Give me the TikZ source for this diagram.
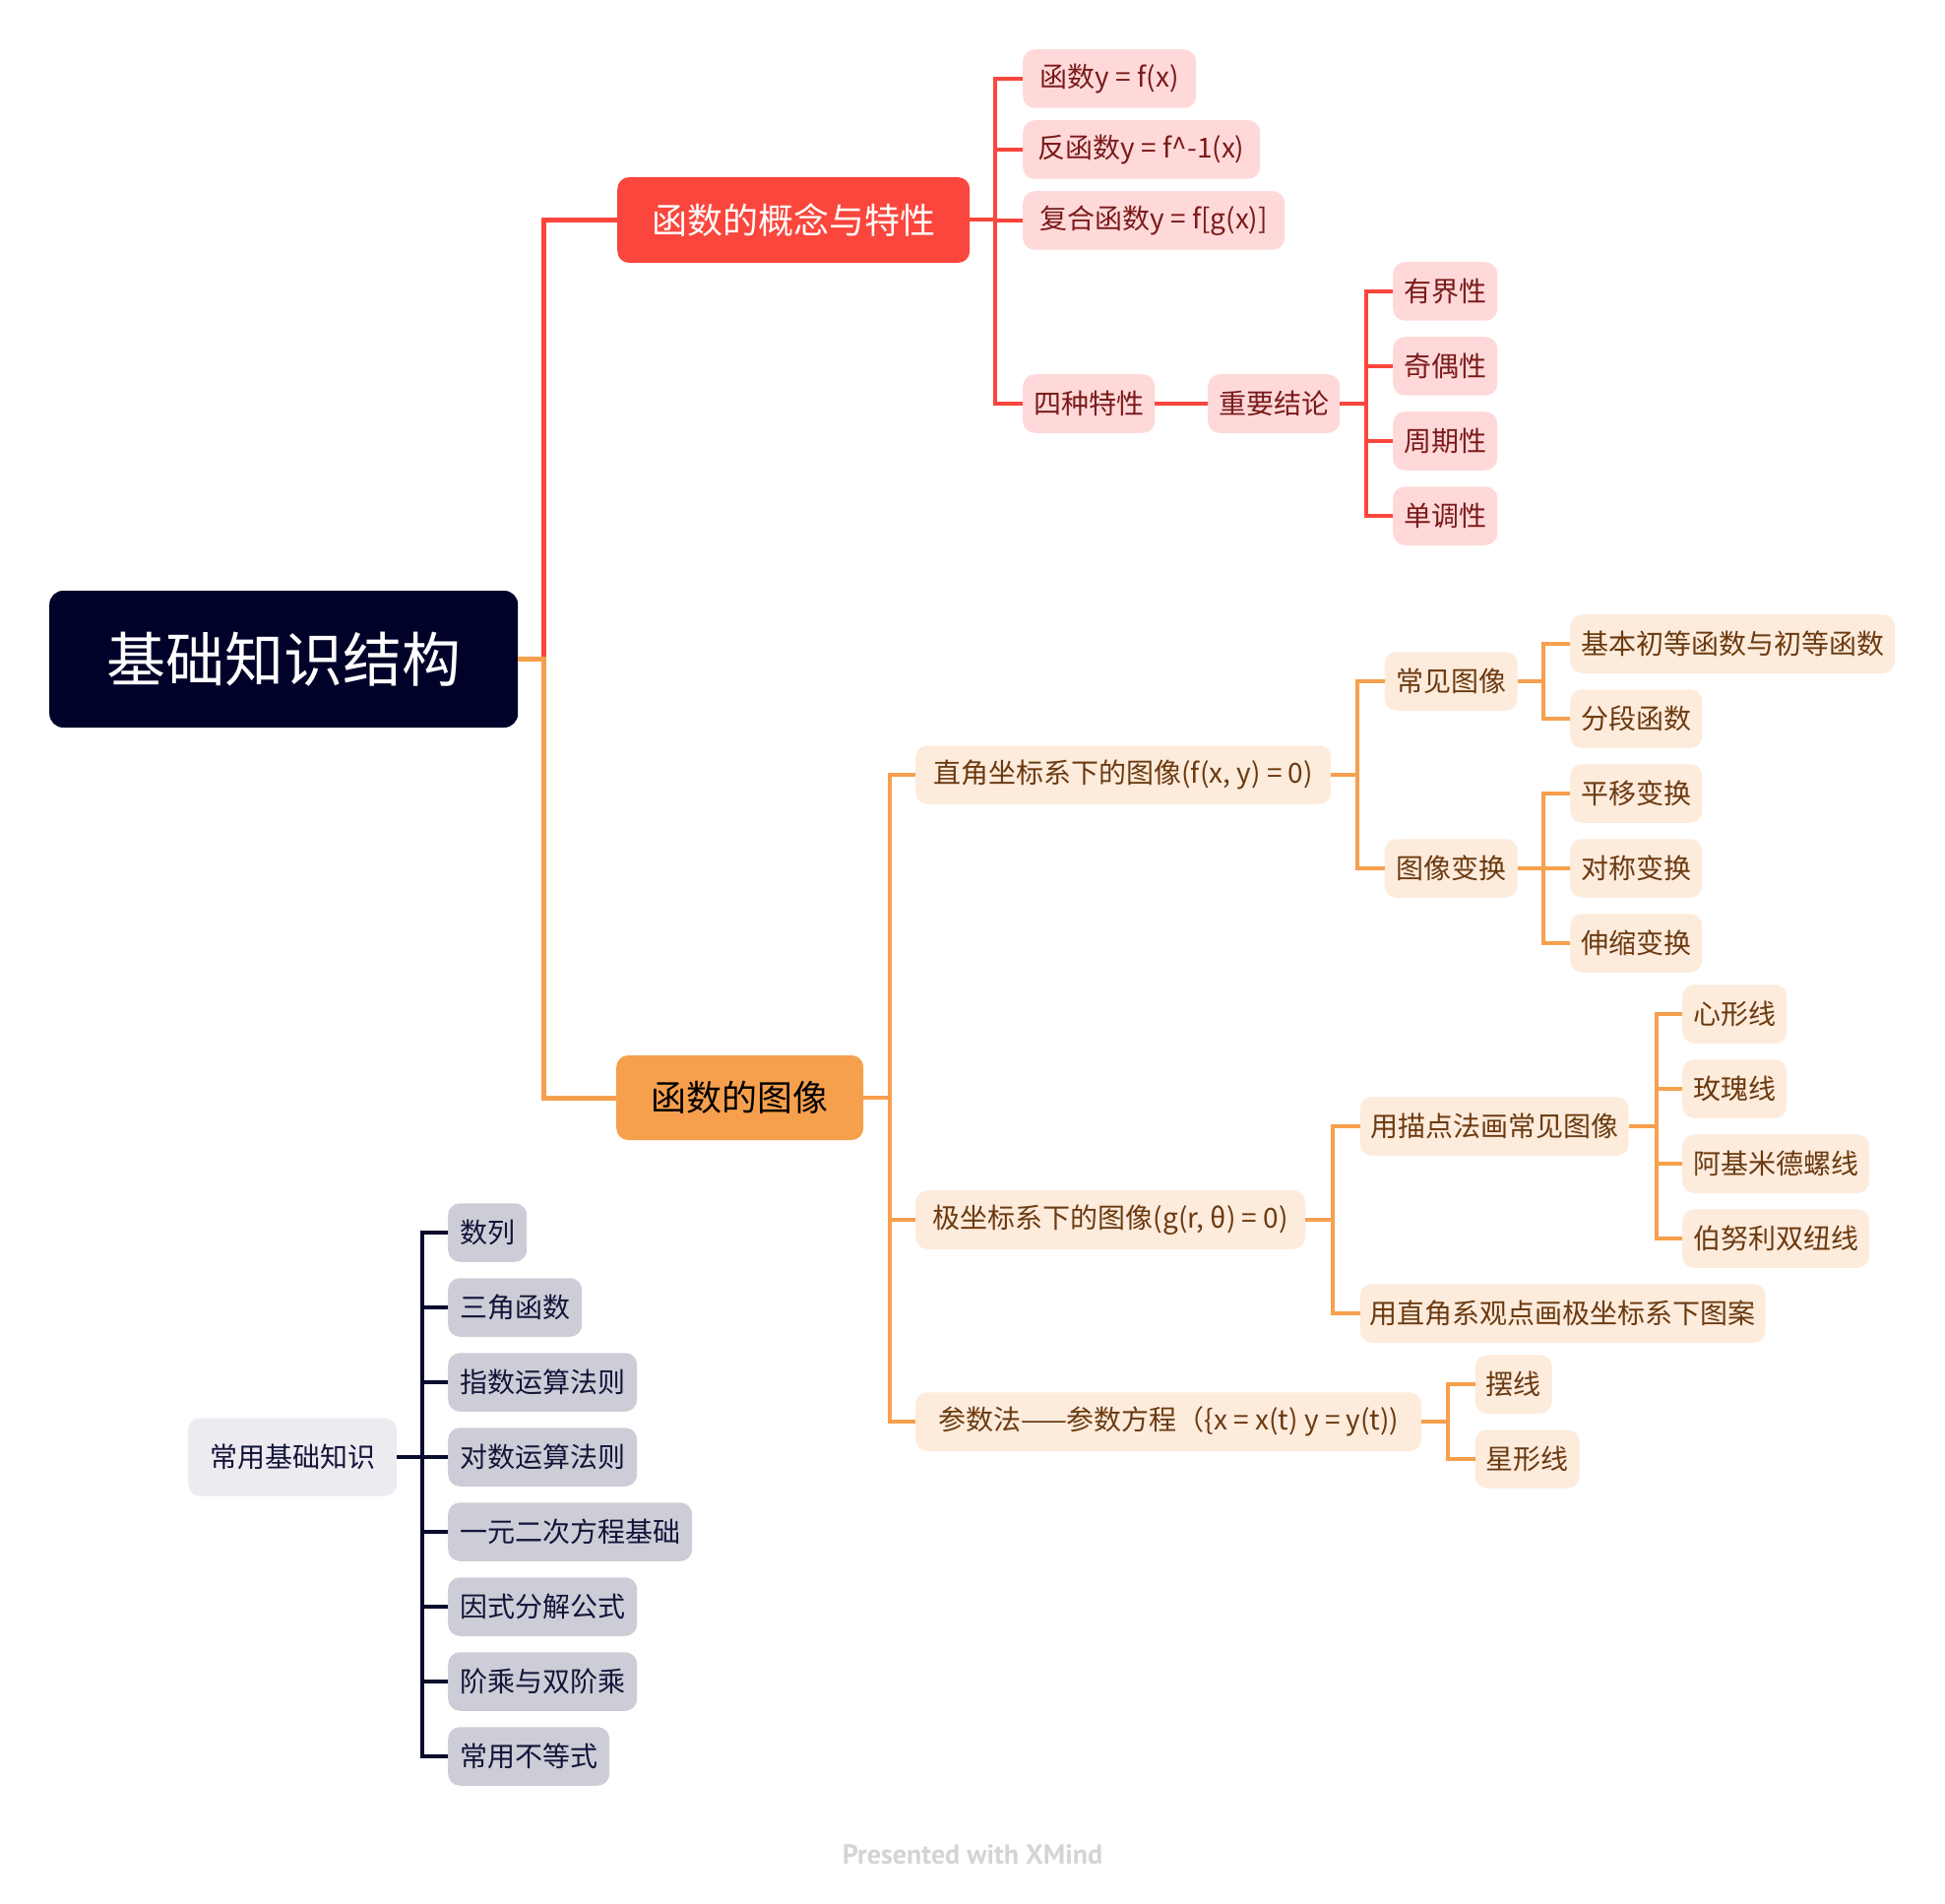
\documentclass[tikz,border=0pt]{standalone}
\usepackage{fontspec}
\setmainfont{Noto Sans CJK SC}
\newfontfamily\wmfont{PT Sans}

% palette
\definecolor{rootF}{HTML}{000229}
\definecolor{redM}{HTML}{FA463C}
\definecolor{pinkF}{HTML}{FFD9D9}
\definecolor{pinkT}{HTML}{7B1A1A}
\definecolor{orM}{HTML}{F6A04D}
\definecolor{peachF}{HTML}{FDEBDC}
\definecolor{peachT}{HTML}{6B3A10}
\definecolor{grayA}{HTML}{EDEBF0}
\definecolor{grayB}{HTML}{CDCDD7}
\definecolor{navyT}{HTML}{14143A}
\definecolor{navyL}{HTML}{0B0B2E}
\definecolor{wmark}{HTML}{D4D4D4}

\newcommand\rootsz{\fontsize{60}{70}\selectfont}
\newcommand\mainsz{\fontsize{36}{42}\selectfont}
\newcommand\subsz{\fontsize{28}{33}\selectfont}

\tikzset{
  box/.style={rounded corners=12pt, inner sep=0pt, minimum height=59.5pt, anchor=west, align=center},
  wd/.style={minimum width=#1 pt},
  rootbox/.style={box, rounded corners=14pt, fill=rootF, text=white, font=\rootsz, minimum height=139pt},
  redbox/.style={box, fill=redM, text=white, font=\mainsz, minimum height=87pt},
  orbox/.style={box, fill=orM, text=black, font=\mainsz, minimum height=86pt},
  pk/.style={box, fill=pinkF, text=pinkT, font=\subsz},
  pe/.style={box, fill=peachF, text=peachT, font=\subsz},
  gA/.style={box, fill=grayA, text=navyT, font=\subsz, minimum height=79pt},
  gB/.style={box, fill=grayB, text=navyT, font=\subsz},
  redtrunk/.style={draw=redM, line width=5pt},
  ortrunk/.style={draw=orM, line width=5pt},
  redln/.style={draw=redM, line width=4pt},
  orln/.style={draw=orM, line width=4pt},
  navln/.style={draw=navyL, line width=4pt},
}

\begin{document}
\begin{tikzpicture}[x=1pt,y=-1pt]
\useasboundingbox (0,0) rectangle (1976,1934);

% central topic and the two main branches
\node[rootbox, wd=476] (root) at (50,669.5) {基础知识结构};
\node[redbox, wd=358] (rm) at (627,223.5) {函数的概念与特性};
\node[orbox, wd=251] (om) at (626,1115) {函数的图像};

% concept branch
\node[pk, wd=176] (r1) at (1039,80) {函数y = f(x)};
\node[pk, wd=241] (r2) at (1039,152) {反函数y = f\textasciicircum-1(x)};
\node[pk, wd=266] (r3) at (1039,224) {复合函数y = f[g(x)]};
\node[pk, wd=134] (r4) at (1039,410) {四种特性};
\node[pk, wd=134] (r5) at (1227,410) {重要结论};
\node[pk, wd=106] (r6) at (1415,296) {有界性};
\node[pk, wd=106] (r7) at (1415,372) {奇偶性};
\node[pk, wd=106] (r8) at (1415,448) {周期性};
\node[pk, wd=106] (r9) at (1415,524) {单调性};

% graph branch
\node[pe, wd=422] (o1) at (930,787) {直角坐标系下的图像(f(x, y) = 0)};
\node[pe, wd=135] (o2) at (1406.5,692) {常见图像};
\node[pe, wd=135] (o3) at (1406.5,882) {图像变换};
\node[pe, wd=330] (o4) at (1595,654) {基本初等函数与初等函数};
\node[pe, wd=134] (o5) at (1595,730) {分段函数};
\node[pe, wd=134] (o6) at (1595,806) {平移变换};
\node[pe, wd=134] (o7) at (1595,882) {对称变换};
\node[pe, wd=134] (o8) at (1595,958) {伸缩变换};
\node[pe, wd=396] (o9) at (930,1239) {极坐标系下的图像(g(r, θ) = 0)};
\node[pe, wd=273] (o10) at (1381.5,1144) {用描点法画常见图像};
\node[pe, wd=412] (o11) at (1381.5,1334) {用直角系观点画极坐标系下图案};
\node[pe, wd=106] (o12) at (1709,1030) {心形线};
\node[pe, wd=106] (o13) at (1709,1106) {玫瑰线};
\node[pe, wd=190] (o14) at (1709,1182) {阿基米德螺线};
\node[pe, wd=190] (o15) at (1709,1258) {伯努利双纽线};
\node[pe, wd=514] (o16) at (930,1444) {参数法——参数方程（\{x = x(t) y = y(t))};
\node[pe, wd=78] (o17) at (1498.5,1406) {摆线};
\node[pe, wd=106] (o18) at (1498.5,1482) {星形线};

% floating topic
\node[gA, wd=212] (g0) at (191,1480) {常用基础知识};
\node[gB, wd=80] (g1) at (455,1252) {数列};
\node[gB, wd=136] (g2) at (455,1328) {三角函数};
\node[gB, wd=192] (g3) at (455,1404) {指数运算法则};
\node[gB, wd=192] (g4) at (455,1480) {对数运算法则};
\node[gB, wd=248] (g5) at (455,1556) {一元二次方程基础};
\node[gB, wd=192] (g6) at (455,1632) {因式分解公式};
\node[gB, wd=192] (g7) at (455,1708) {阶乘与双阶乘};
\node[gB, wd=164] (g8) at (455,1784) {常用不等式};

% connectors of the central topic
\draw[redtrunk] (root.east) -- ++(26,0) |- (rm.west);
\draw[ortrunk] (root.east) -- ++(26,0) |- (om.west);

% concept branch connectors
\foreach \c in {r1,r2,r3,r4}
  \draw[redln] (rm.east) -- ++(26,0) |- (\c.west);
\draw[redln] (r4.east) -- (r5.west);
\foreach \c in {r6,r7,r8,r9}
  \draw[redln] (r5.east) -- ++(27,0) |- (\c.west);

% graph branch connectors
\foreach \c in {o1,o9,o16}
  \draw[orln] (om.east) -- ++(27,0) |- (\c.west);
\foreach \c in {o2,o3}
  \draw[orln] (o1.east) -- ++(27,0) |- (\c.west);
\foreach \c in {o4,o5}
  \draw[orln] (o2.east) -- ++(26,0) |- (\c.west);
\foreach \c in {o6,o7,o8}
  \draw[orln] (o3.east) -- ++(26,0) |- (\c.west);
\foreach \c in {o10,o11}
  \draw[orln] (o9.east) -- ++(28,0) |- (\c.west);
\foreach \c in {o12,o13,o14,o15}
  \draw[orln] (o10.east) -- ++(28,0) |- (\c.west);
\foreach \c in {o17,o18}
  \draw[orln] (o16.east) -- ++(27,0) |- (\c.west);

% floating topic connectors
\foreach \c in {g1,g2,g3,g4,g5,g6,g7,g8}
  \draw[navln] (g0.east) -- ++(26,0) |- (\c.west);

\node[font=\wmfont\bfseries\fontsize{28}{32}\selectfont, text=wmark] (wm) at (988,1884) {Presented with XMind};
\end{tikzpicture}
\end{document}
